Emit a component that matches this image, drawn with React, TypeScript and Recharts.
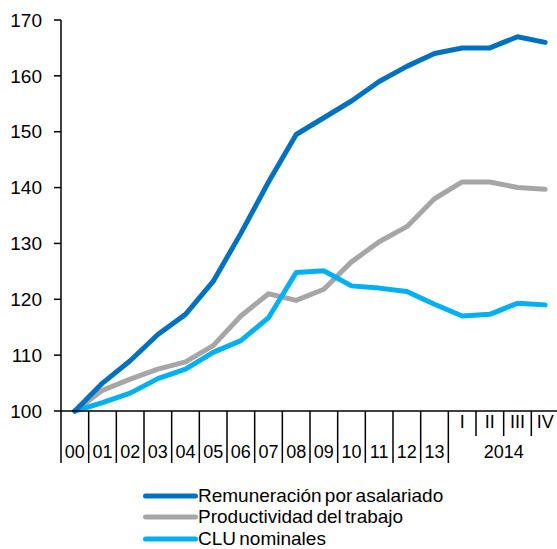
import { LineChart, Line, XAxis, YAxis } from 'recharts';

// categorías: años 2000-2013 y trimestres de 2014
const categories = ['00', '01', '02', '03', '04', '05', '06', '07', '08', '09', '10', '11', '12', '13', 'I', 'II', 'III', 'IV'];
const remuneracion = [100, 105, 109, 113.7, 117.3, 123.2, 131.8, 141, 149.5, 152.5, 155.5, 159, 161.7, 164, 165, 165, 167, 166];
const productividad = [100, 103.7, 105.7, 107.5, 108.8, 111.7, 117, 121, 119.8, 121.8, 126.7, 130.3, 133, 138, 141, 141, 140, 139.7];
const cluNominales = [100, 101.5, 103.2, 105.8, 107.5, 110.5, 112.6, 116.7, 124.8, 125.1, 122.4, 122, 121.4, 119.1, 117, 117.3, 119.3, 119];
const yTicks = [100, 110, 120, 130, 140, 150, 160, 170];
const quarterYear = '2014';

const COLORS = {
  remuneracion: '#0070C0',
  productividad: '#A6A6A6',
  clu: '#00B0F0',
};

const FONT = '"Liberation Sans", Arial, sans-serif';

// geometría del gráfico
const CHART_W = 559;
const TOP = 20;
const PLOT_H = 391;
const Y_AXIS_W = 61;
const PLOT_W = CHART_W - Y_AXIS_W;
const BAND = PLOT_W / categories.length;
const AXIS_Y = TOP + PLOT_H;

const data = categories.map((c, i) => ({
  cat: c,
  remuneracion: remuneracion[i],
  productividad: productividad[i],
  clu: cluNominales[i],
}));

const legendItems = [
  { label: 'Remuneración por asalariado', color: COLORS.remuneracion },
  { label: 'Productividad del trabajo', color: COLORS.productividad },
  { label: 'CLU nominales', color: COLORS.clu },
];

function CategoryTick(props: any) {
  const { x, payload, index } = props;
  const left = x - BAND / 2;
  const isQuarter = index >= 14;
  // separadores largos para años, cortos entre trimestres
  const longLine = !isQuarter || index === 14;
  return (
    <g>
      <line
        x1={left}
        x2={left}
        y1={AXIS_Y}
        y2={longLine ? AXIS_Y + 52 : AXIS_Y + 25}
        stroke="#000"
        strokeWidth={1.5}
      />
      <text
        x={x}
        y={isQuarter ? AXIS_Y + 17 : AXIS_Y + 47}
        textAnchor="middle"
        fontSize={18}
        fontFamily={FONT}
        fill="#000"
      >
        {payload.value}
      </text>
      {index === 16 && (
        <text x={left} y={AXIS_Y + 47} textAnchor="middle" fontSize={18} fontFamily={FONT} fill="#000">
          {quarterYear}
        </text>
      )}
    </g>
  );
}

export default function App() {
  return (
    <div style={{ position: 'absolute', left: 0, top: 0, width: 557, height: 549, overflow: 'hidden', background: '#fff' }}>
      <LineChart
        width={CHART_W}
        height={AXIS_Y + 60}
        data={data}
        margin={{ top: TOP, right: 0, bottom: 0, left: 0 }}
      >
        <XAxis
          dataKey="cat"
          padding={{ left: BAND / 2, right: BAND / 2 }}
          axisLine={{ stroke: '#000', strokeWidth: 1.5 }}
          tickLine={false}
          tick={<CategoryTick />}
          interval={0}
          height={60}
        />
        <YAxis
          domain={[100, 170]}
          ticks={yTicks}
          width={Y_AXIS_W}
          axisLine={{ stroke: '#000', strokeWidth: 1.5 }}
          tickLine={{ stroke: '#000', strokeWidth: 1.5 }}
          tickSize={7}
          tickMargin={12}
          tick={{ fontSize: 19, fill: '#000', fontFamily: FONT }}
          interval={0}
        />
        <Line type="linear" dataKey="productividad" stroke={COLORS.productividad} strokeWidth={5} dot={false} strokeLinejoin="round" strokeLinecap="round" isAnimationActive={false} />
        <Line type="linear" dataKey="clu" stroke={COLORS.clu} strokeWidth={5} dot={false} strokeLinejoin="round" strokeLinecap="round" isAnimationActive={false} />
        <Line type="linear" dataKey="remuneracion" stroke={COLORS.remuneracion} strokeWidth={5} dot={false} strokeLinejoin="round" strokeLinecap="round" isAnimationActive={false} />
      </LineChart>
      <div style={{ position: 'absolute', left: 143, top: 485, fontFamily: FONT, fontSize: 19, color: '#000' }}>
        {legendItems.map((it) => (
          <div key={it.label} style={{ display: 'flex', alignItems: 'center', height: 21.5 }}>
            <svg width={55} height={8} style={{ display: 'block' }}>
              <line x1={2.5} x2={52.5} y1={4} y2={4} stroke={it.color} strokeWidth={5} strokeLinecap="round" />
            </svg>
            <span style={{ whiteSpace: 'nowrap', wordSpacing: -2 }}>{it.label}</span>
          </div>
        ))}
      </div>
    </div>
  );
}
